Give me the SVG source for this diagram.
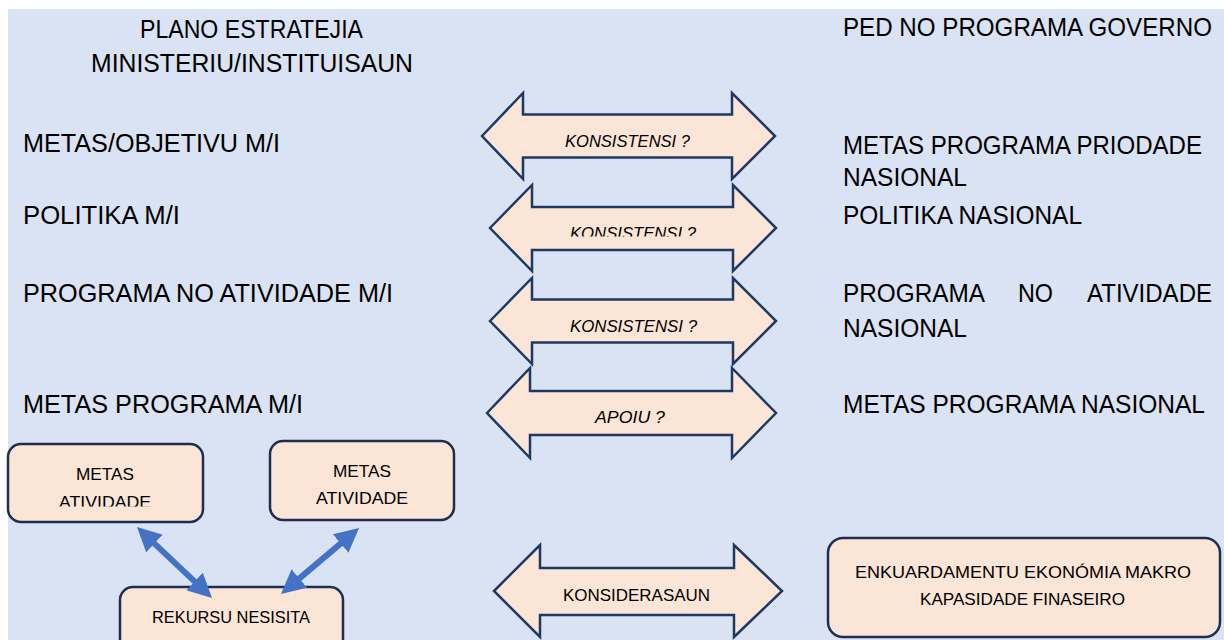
<svg xmlns="http://www.w3.org/2000/svg" width="1224" height="640" viewBox="0 0 1224 640">
<style>
  .lbl { font-family: "Liberation Sans", Arial, sans-serif; font-size: 25px; fill: #000; }
  .arrow { fill: #FBE5D6; stroke: #1F3864; stroke-width: 2.5; stroke-linejoin: miter; }
  .box { fill: #FBE5D6; stroke: #1F2D4F; stroke-width: 2.5; }
  .it { font-family: "Liberation Sans", Arial, sans-serif; font-size: 17px; font-style: italic; fill: #000; text-anchor: middle; }
  .bt { font-family: "Liberation Sans", Arial, sans-serif; font-size: 17px; fill: #000; text-anchor: middle; }
  .bt2 { font-family: "Liberation Sans", Arial, sans-serif; font-size: 16.5px; fill: #000; text-anchor: middle; }
  .blue { stroke: #4472C4; stroke-width: 6; fill: none; marker-start: url(#bh); marker-end: url(#bh); }
</style>
<defs>
  <marker id="bh" viewBox="0 0 10 10" refX="3" refY="5" markerWidth="4" markerHeight="4" orient="auto-start-reverse">
    <path d="M0,0 L10,5 L0,10 Z" fill="#4472C4"/>
  </marker>
  <clipPath id="clipA2"><rect x="480" y="180" width="300" height="56.5"/></clipPath>
  <clipPath id="clipB1"><rect x="0" y="440" width="210" height="66.5"/></clipPath>
</defs>

<rect x="0" y="0" width="1224" height="640" fill="#FFFFFF"/>
<rect x="8" y="9" width="1216" height="631" fill="#DAE3F3"/>

<g id="left-column">
  <text class="lbl" x="140" y="38" textLength="223" lengthAdjust="spacingAndGlyphs">PLANO ESTRATEJIA</text>
  <text class="lbl" x="91" y="72" textLength="322" lengthAdjust="spacingAndGlyphs">MINISTERIU/INSTITUISAUN</text>
  <text class="lbl" x="23" y="152" textLength="257" lengthAdjust="spacingAndGlyphs">METAS/OBJETIVU M/I</text>
  <text class="lbl" x="23" y="224" textLength="157" lengthAdjust="spacingAndGlyphs">POLITIKA M/I</text>
  <text class="lbl" x="23" y="302" textLength="370" lengthAdjust="spacingAndGlyphs">PROGRAMA NO ATIVIDADE M/I</text>
  <text class="lbl" x="23" y="413" textLength="280" lengthAdjust="spacingAndGlyphs">METAS PROGRAMA M/I</text>
</g>

<g id="right-column">
  <text class="lbl" x="843" y="36" textLength="369" lengthAdjust="spacingAndGlyphs">PED NO PROGRAMA GOVERNO</text>
  <text class="lbl" x="843" y="154" textLength="359" lengthAdjust="spacingAndGlyphs">METAS PROGRAMA PRIODADE</text>
  <text class="lbl" x="843" y="186" textLength="124" lengthAdjust="spacingAndGlyphs">NASIONAL</text>
  <text class="lbl" x="843" y="224" textLength="239" lengthAdjust="spacingAndGlyphs">POLITIKA NASIONAL</text>
  <text class="lbl" x="843" y="302" textLength="142" lengthAdjust="spacingAndGlyphs">PROGRAMA</text>
  <text class="lbl" x="1018" y="302" textLength="35" lengthAdjust="spacingAndGlyphs">NO</text>
  <text class="lbl" x="1087" y="302" textLength="125" lengthAdjust="spacingAndGlyphs">ATIVIDADE</text>
  <text class="lbl" x="843" y="337" textLength="124" lengthAdjust="spacingAndGlyphs">NASIONAL</text>
  <text class="lbl" x="843" y="413" textLength="362" lengthAdjust="spacingAndGlyphs">METAS PROGRAMA NASIONAL</text>
</g>

<g id="arrow-konsistensi-1">
  <polygon class="arrow" points="482,136 523,93 523,114.5 732,114.5 732,93 775,136 732,179 732,157.5 523,157.5 523,179"/>
  <text class="it" x="627.5" y="147" textLength="125" lengthAdjust="spacingAndGlyphs">KONSISTENSI ?</text>
</g>
<g id="arrow-konsistensi-2">
  <polygon class="arrow" points="490,228 532,185 532,207 733,207 733,185 776,228 733,271 733,250 532,250 532,271"/>
  <text class="it" x="633" y="239" textLength="126" lengthAdjust="spacingAndGlyphs" clip-path="url(#clipA2)">KONSISTENSI ?</text>
</g>
<g id="arrow-konsistensi-3">
  <polygon class="arrow" points="490,321 532,278 532,299.5 733,299.5 733,278 776,321 733,364 733,342.5 532,342.5 532,364"/>
  <text class="it" x="633.5" y="332" textLength="127" lengthAdjust="spacingAndGlyphs">KONSISTENSI ?</text>
</g>
<g id="arrow-apoiu">
  <polygon class="arrow" points="487,413 530,368 530,391 732,391 732,368 776,413 732,458 732,435 530,435 530,458"/>
  <text class="it" x="630" y="423" textLength="70" lengthAdjust="spacingAndGlyphs">APOIU ?</text>
</g>
<g id="arrow-konsiderasaun">
  <polygon class="arrow" points="494,591 540,545 540,568 734,568 734,545 782,591 734,637 734,615 540,615 540,637"/>
  <text class="bt" x="636.5" y="601" textLength="147" lengthAdjust="spacingAndGlyphs">KONSIDERASAUN</text>
</g>

<g id="box-metas-atividade-1">
  <rect class="box" x="8" y="444" width="195" height="78" rx="13"/>
  <text class="bt" x="105" y="480" textLength="58" lengthAdjust="spacingAndGlyphs">METAS</text>
  <text class="bt" x="105" y="508" textLength="92" lengthAdjust="spacingAndGlyphs" clip-path="url(#clipB1)">ATIVIDADE</text>
</g>
<g id="box-metas-atividade-2">
  <rect class="box" x="270" y="441" width="184" height="79" rx="13"/>
  <text class="bt" x="362" y="477" textLength="58" lengthAdjust="spacingAndGlyphs">METAS</text>
  <text class="bt" x="362" y="504" textLength="92" lengthAdjust="spacingAndGlyphs">ATIVIDADE</text>
</g>
<g id="box-rekursu">
  <rect class="box" x="120" y="587" width="223" height="70" rx="13"/>
  <text class="bt" x="231" y="623" textLength="158" lengthAdjust="spacingAndGlyphs">REKURSU NESISITA</text>
</g>
<g id="box-enkuardamentu">
  <rect class="box" x="828" y="538" width="392" height="99" rx="15"/>
  <text class="bt2" x="1023" y="578" textLength="336" lengthAdjust="spacingAndGlyphs">ENKUARDAMENTU EKONÓMIA MAKRO</text>
  <text class="bt2" x="1022.5" y="605" textLength="205" lengthAdjust="spacingAndGlyphs">KAPASIDADE FINASEIRO</text>
</g>

<g id="connectors">
  <line class="blue" x1="149.2" y1="538.6" x2="199.8" y2="586.4"/>
  <line class="blue" x1="346.2" y1="538.9" x2="293.8" y2="583.1"/>
</g>
</svg>
